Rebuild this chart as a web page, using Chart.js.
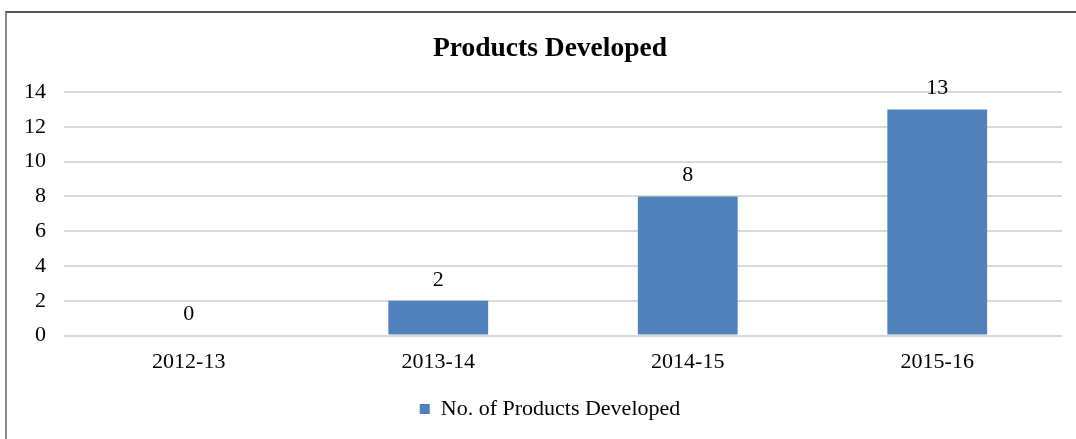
<!DOCTYPE html>
<html>
<head>
<meta charset="utf-8">
<title>Products Developed</title>
<script src="https://cdn.jsdelivr.net/npm/chart.js@4/dist/chart.umd.min.js"></script>
<style>
  html, body { margin: 0; padding: 0; background: #fff; }
  #wrap { position: relative; width: 1076px; height: 439px; overflow: hidden; }
  #frame {
    position: absolute; left: 5px; top: 11px; width: 1100px; height: 460px;
    border-top: 2px solid #555; border-left: 2px solid #888;
    pointer-events: none;
  }
</style>
</head>
<body>
<div id="wrap">
  <canvas id="productsChart" width="1076" height="439"></canvas>
  <div id="frame"></div>
</div>
<script>
// financial years and number of products per year
const years = ["2012-13", "2013-14", "2014-15", "2015-16"];
const productsDeveloped = [0, 2, 8, 13];
const yTicks = [0, 2, 4, 6, 8, 10, 12, 14];

const serif = "'Liberation Serif', 'Times New Roman', serif";
const barBlue = "#4F81BD";

// draws the value above each bar
const valueLabels = {
    id: "valueLabels",
    afterDatasetsDraw(chart) {
        const ctx = chart.ctx;
        ctx.save();
        ctx.font = "22px " + serif;
        ctx.fillStyle = "#000";
        ctx.textAlign = "center";
        ctx.textBaseline = "middle";
        chart.getDatasetMeta(0).data.forEach(function(bar, i) {
            ctx.fillText(String(productsDeveloped[i]), bar.x, bar.y - 21);
        });
        ctx.restore();
    }
};

// title and legend sit a bit right of the canvas centre
const shiftHeaders = {
    id: "shiftHeaders",
    afterLayout(chart) {
        if (chart.titleBlock) chart.titleBlock.left += 33;
        if (chart.legend) chart.legend.left += 33;
    }
};

const ctx = document.getElementById("productsChart").getContext("2d");
const chart = new Chart(ctx, {
    type: "bar",
    data: {
        labels: years,
        datasets: [{
            label: "No. of Products Developed",
            data: productsDeveloped,
            backgroundColor: barBlue,
            borderWidth: 0,
            barPercentage: 0.4,
            categoryPercentage: 1
        }]
    },
    options: {
        responsive: false,
        animation: false,
        layout: { padding: { left: 5, right: 14, top: 20, bottom: 9 } },
        plugins: {
            title: {
                display: true,
                text: "Products Developed",
                color: "#000",
                font: { family: serif, size: 27.5, weight: "bold" },
                padding: { top: 12, bottom: 27 }
            },
            legend: {
                position: "bottom",
                labels: {
                    color: "#000",
                    font: { family: serif, size: 22 },
                    boxWidth: 10,
                    boxHeight: 10,
                    padding: 18
                }
            },
            tooltip: { enabled: false }
        },
        scales: {
            x: {
                grid: { display: false },
                border: { display: false },
                ticks: {
                    color: "#000",
                    font: { family: serif, size: 22 },
                    padding: 5
                }
            },
            y: {
                min: 0,
                max: 14,
                afterFit(scale) { scale.width = 59; },
                afterBuildTicks(scale) { scale.ticks = yTicks.map(v => ({ value: v })); },
                grid: { color: "#d9d9d9", lineWidth: 2, drawTicks: false },
                border: { display: false },
                ticks: {
                    color: "#000",
                    font: { family: serif, size: 22 },
                    padding: 18
                }
            }
        }
    },
    plugins: [valueLabels, shiftHeaders]
});
</script>
</body>
</html>
